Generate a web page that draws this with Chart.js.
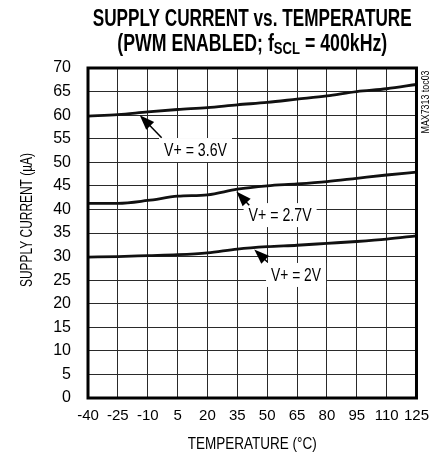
<!DOCTYPE html>
<html>
<head>
<meta charset="utf-8">
<script src="https://cdn.jsdelivr.net/npm/chart.js@4.4.1/dist/chart.umd.min.js"></script>
<style>
  html, body { margin: 0; padding: 0; background: #fff; }
  #wrap { width: 438px; height: 457px; }
</style>
</head>
<body>
<div id="wrap"><canvas id="toc03" width="438" height="457"></canvas></div>
<script>
// readings from the plot, supply current in uA
var temps = [-40, -25, -10, 5, 20, 35, 50, 65, 80, 95, 110, 125];
var i36 = [59.8, 60.1, 60.7, 61.2, 61.6, 62.2, 62.7, 63.4, 64.1, 65.0, 65.6, 66.5];
var i27 = [41.3, 41.3, 41.9, 42.8, 43.1, 44.3, 45.0, 45.4, 45.9, 46.6, 47.3, 47.9];
var i20 = [29.9, 30.0, 30.2, 30.4, 30.8, 31.6, 32.1, 32.4, 32.8, 33.2, 33.7, 34.4];
var seriesLabels = ["V+ = 3.6V", "V+ = 2.7V", "V+ = 2V"];

var SANS = "'Liberation Sans', Arial, sans-serif";

// callouts: arrow head sits on the curve, tail runs to the label box (data coords)
var callouts = [
    { text: seriesLabels[0], head: [-14, 60.0], tail: [-3, 55.2], at: [14, 52.6], w: 63 },
    { text: seriesLabels[1], head: [34.5, 43.8], tail: [41, 40.9], at: [56.5, 38.8], w: 63 },
    { text: seriesLabels[2], head: [43.5, 31.5], tail: [50, 28.9], at: [64.5, 26.1], w: 50 }
];

function pts(ys) {
    return temps.map(function(t, i) { return { x: t, y: ys[i] }; });
}

// no narrow font installed, so squeeze the text sideways to the wanted width
function narrowText(ctx, text, x, y, width) {
    var k = width / ctx.measureText(text).width;
    ctx.save();
    ctx.translate(x, y);
    ctx.scale(k, 1);
    ctx.textAlign = "center";
    ctx.fillText(text, 0, 0);
    ctx.restore();
}

function arrow(ctx, x1, y1, x2, y2) {
    var a = Math.atan2(y2 - y1, x2 - x1);
    var len = 15, half = 5.5;
    ctx.beginPath();
    ctx.moveTo(x1, y1);
    ctx.lineTo(x2 - Math.cos(a) * len * 0.8, y2 - Math.sin(a) * len * 0.8);
    ctx.lineWidth = 1.5;
    ctx.stroke();
    ctx.beginPath();
    ctx.moveTo(x2, y2);
    ctx.lineTo(x2 - Math.cos(a) * len + Math.sin(a) * half, y2 - Math.sin(a) * len - Math.cos(a) * half);
    ctx.lineTo(x2 - Math.cos(a) * len - Math.sin(a) * half, y2 - Math.sin(a) * len + Math.cos(a) * half);
    ctx.closePath();
    ctx.fill();
}

var extras = {
    id: "extras",
    beforeDatasetsDraw: function(chart) {
        var ctx = chart.ctx, xs = chart.scales.x, ys = chart.scales.y;
        ctx.save();
        ctx.fillStyle = "#fff";
        callouts.forEach(function(c) {
            var w = c.w + 10;
            var cx = xs.getPixelForValue(c.at[0]), cy = ys.getPixelForValue(c.at[1]);
            ctx.fillRect(cx - w / 2, cy - 12, w, 24);
        });
        ctx.restore();
    },
    afterDraw: function(chart) {
        var ctx = chart.ctx, xs = chart.scales.x, ys = chart.scales.y, a = chart.chartArea;
        var midX = (a.left + a.right) / 2;
        ctx.save();

        // frame
        ctx.strokeStyle = "#000";
        ctx.lineWidth = 3;
        ctx.strokeRect(a.left, a.top, a.right - a.left, a.bottom - a.top);

        // callout text + arrows
        ctx.fillStyle = "#000";
        ctx.strokeStyle = "#000";
        ctx.font = "18px " + SANS;
        ctx.textBaseline = "middle";
        callouts.forEach(function(c) {
            narrowText(ctx, c.text, xs.getPixelForValue(c.at[0]), ys.getPixelForValue(c.at[1]) + 1, c.w);
            arrow(ctx, xs.getPixelForValue(c.tail[0]), ys.getPixelForValue(c.tail[1]),
                xs.getPixelForValue(c.head[0]), ys.getPixelForValue(c.head[1]));
        });

        // title, two lines, second with subscript
        ctx.textBaseline = "alphabetic";
        ctx.font = "bold 23px " + SANS;
        narrowText(ctx, "SUPPLY CURRENT vs. TEMPERATURE", midX, 26, 319);
        var p1 = "(PWM ENABLED; f", sub = "SCL", p2 = " = 400kHz)";
        var w1 = ctx.measureText(p1).width, w2 = ctx.measureText(p2).width;
        ctx.font = "bold 17px " + SANS;
        var ws = ctx.measureText(sub).width;
        var total = w1 + ws + w2, k = 270 / total;
        ctx.save();
        ctx.translate(midX, 51);
        ctx.scale(k, 1);
        ctx.textAlign = "left";
        ctx.font = "bold 23px " + SANS;
        ctx.fillText(p1, -total / 2, 0);
        ctx.font = "bold 17px " + SANS;
        ctx.fillText(sub, -total / 2 + w1, 3);
        ctx.font = "bold 23px " + SANS;
        ctx.fillText(p2, -total / 2 + w1 + ws, 0);
        ctx.restore();

        // axis titles
        ctx.font = "16px " + SANS;
        ctx.textBaseline = "middle";
        narrowText(ctx, "TEMPERATURE (\u00B0C)", midX, 445, 129);
        ctx.save();
        ctx.translate(28, 220);
        ctx.rotate(-Math.PI / 2);
        narrowText(ctx, "SUPPLY CURRENT (\u00B5A)", 0, 0, 134);
        ctx.restore();

        // part tag on the right edge
        ctx.save();
        ctx.font = "11px " + SANS;
        ctx.translate(426, a.top + 34);
        ctx.rotate(-Math.PI / 2);
        narrowText(ctx, "MAX7313 toc03", 0, 0, 63);
        ctx.restore();

        ctx.restore();
    }
};

function lineSet(label, ys) {
    return {
        label: label,
        data: pts(ys),
        borderColor: "#111",
        borderWidth: 2.8,
        pointRadius: 0,
        fill: false,
        tension: 0.35,
        cubicInterpolationMode: "monotone"
    };
}

new Chart("toc03", {
    type: "line",
    data: {
        datasets: [
            lineSet(seriesLabels[0], i36),
            lineSet(seriesLabels[1], i27),
            lineSet(seriesLabels[2], i20)
        ]
    },
    options: {
        responsive: false,
        animation: false,
        devicePixelRatio: 1,
        layout: { padding: { top: 68, right: 20, left: 0, bottom: 0 } },
        plugins: {
            legend: { display: false },
            tooltip: { enabled: false }
        },
        scales: {
            x: {
                type: "linear",
                min: -40,
                max: 125,
                afterFit: function(s) { s.height = 59; },
                ticks: {
                    stepSize: 15,
                    color: "#000",
                    padding: 9,
                    maxRotation: 0,
                    autoSkip: false,
                    font: { family: SANS, size: 15 }
                },
                grid: { color: "#2a2a2a", lineWidth: 1, drawTicks: false },
                border: { display: false }
            },
            y: {
                min: 0,
                max: 70,
                afterFit: function(s) { s.width = 88; },
                ticks: {
                    stepSize: 5,
                    color: "#000",
                    padding: 17,
                    font: { family: SANS, size: 16 }
                },
                grid: { color: "#2a2a2a", lineWidth: 1, drawTicks: false },
                border: { display: false }
            }
        }
    },
    plugins: [extras]
});
</script>
</body>
</html>
